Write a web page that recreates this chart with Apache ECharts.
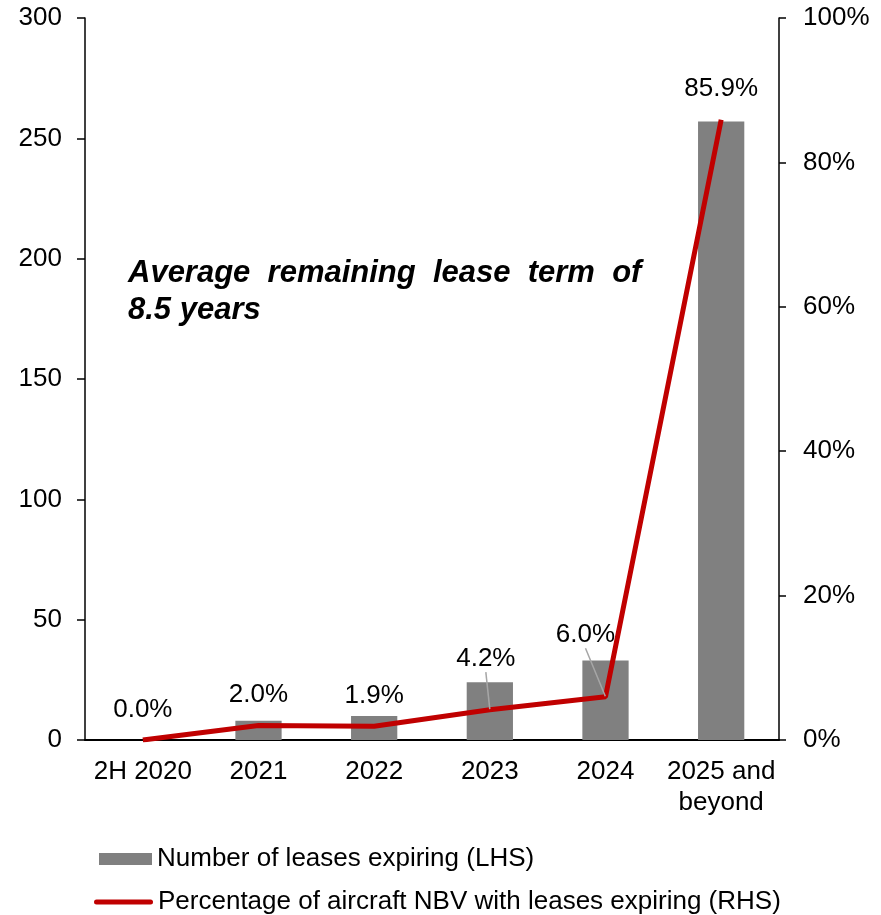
<!DOCTYPE html>
<html>
<head>
<meta charset="utf-8">
<script src="https://cdn.jsdelivr.net/npm/echarts@6/dist/echarts.min.js"></script>
<style>
  html, body { margin: 0; padding: 0; background: #ffffff; }
  #chart { width: 881px; height: 915px; }
</style>
</head>
<body>
<div id="chart"></div>
<script>
// Lease expiry profile
const categories = ['2H 2020', '2021', '2022', '2023', '2024', '2025 and\nbeyond'];
const leasesExpiring = [0, 8, 10, 24, 33, 257];
const nbvPercent = [0.0, 2.0, 1.9, 4.2, 6.0, 85.9];
const leftTicks = [0, 50, 100, 150, 200, 250, 300];
const rightTicks = [0, 20, 40, 60, 80, 100];

const FONT = '"Liberation Sans", Arial, sans-serif';
const FS = 26;
const BAR_NAME = 'Number of leases expiring (LHS)';
const LINE_NAME = 'Percentage of aircraft NBV with leases expiring (RHS)';
const chart = echarts.init(document.getElementById('chart'));

// labels that sit away from their point, joined by a thin guide line
const labelShift = { 3: { dx: -4, dy: -20 }, 4: { dx: -20, dy: -31 } };
const lineData = nbvPercent.map((v, i) => ({
  value: v,
  labelLine: { show: !!labelShift[i] }
}));

const legendText = { fontFamily: FONT, fontSize: FS, color: '#000' };

chart.setOption({
  animation: false,
  grid: { left: 85, right: 102, top: 18, bottom: 175 },
  legend: [
    {
      left: 94,
      top: 841,
      itemWidth: 53,
      itemHeight: 12,
      itemGap: 5,
      textStyle: legendText,
      data: [{ name: BAR_NAME, icon: 'rect', itemStyle: { color: '#808080' } }]
    },
    {
      left: 89,
      top: 884,
      itemWidth: 59,
      itemHeight: 12,
      textStyle: legendText,
      data: [{
        name: LINE_NAME,
        icon: 'path://M2.5,0H56.5A2.5,2.5,0,0,1,56.5,5H2.5A2.5,2.5,0,0,1,2.5,0Z',
        itemStyle: { color: '#C00000' }
      }]
    }
  ],
  xAxis: {
    type: 'category',
    data: categories,
    axisLine: { lineStyle: { color: '#000', width: 2 } },
    axisTick: { show: false },
    axisLabel: {
      interval: 0,
      fontFamily: FONT,
      fontSize: FS,
      color: '#000',
      margin: 16,
      lineHeight: 31
    }
  },
  yAxis: [
    {
      type: 'value',
      min: leftTicks[0],
      max: leftTicks[leftTicks.length - 1],
      interval: 50,
      position: 'left',
      axisLine: { show: true, lineStyle: { color: '#000', width: 1.5 } },
      axisTick: { show: true, length: 8, lineStyle: { color: '#000', width: 1.5 } },
      axisLabel: { fontFamily: FONT, fontSize: FS, color: '#000', margin: 23 },
      splitLine: { show: false }
    },
    {
      type: 'value',
      min: rightTicks[0],
      max: rightTicks[rightTicks.length - 1],
      interval: 20,
      position: 'right',
      axisLine: { show: true, lineStyle: { color: '#000', width: 1.5 } },
      axisTick: { show: true, length: 7, lineStyle: { color: '#000', width: 1.5 } },
      axisLabel: { fontFamily: FONT, fontSize: FS, color: '#000', margin: 24, formatter: '{value}%' },
      splitLine: { show: false }
    }
  ],
  series: [
    {
      name: BAR_NAME,
      type: 'bar',
      yAxisIndex: 0,
      data: leasesExpiring,
      barWidth: '40%',
      itemStyle: { color: '#808080' }
    },
    {
      name: LINE_NAME,
      type: 'line',
      yAxisIndex: 1,
      data: lineData,
      symbol: 'circle',
      symbolSize: 1,
      showSymbol: true,
      lineStyle: { color: '#C00000', width: 5 },
      itemStyle: { color: 'rgba(0,0,0,0)' },
      label: {
        show: true,
        position: 'top',
        distance: 17,
        fontFamily: FONT,
        fontSize: FS,
        color: '#000',
        formatter: p => p.value.toFixed(1) + '%'
      },
      labelLine: { lineStyle: { color: '#A6A6A6', width: 1.5 } },
      labelLayout: p => labelShift[p.dataIndex] || {}
    }
  ],
  graphic: [
    {
      type: 'text',
      left: 128,
      top: 255,
      style: {
        text: 'Average  remaining  lease  term  of\n8.5 years',
        fontFamily: FONT,
        fontSize: 31,
        fontWeight: 'bold',
        fontStyle: 'italic',
        lineHeight: 37,
        fill: '#000'
      }
    }
  ]
});
</script>
</body>
</html>
